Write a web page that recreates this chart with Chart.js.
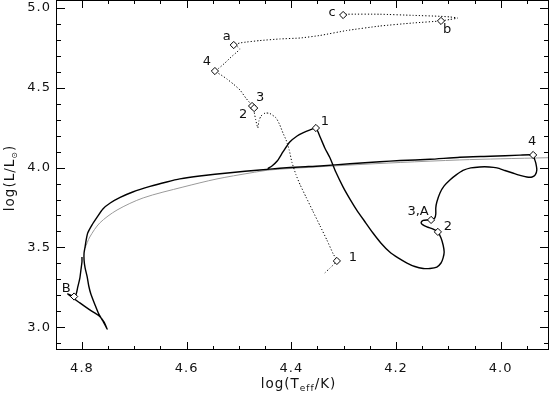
<!DOCTYPE html>
<html>
<head>
<meta charset="utf-8">
<script src="https://cdn.jsdelivr.net/npm/chart.js@4.4.1/dist/chart.umd.min.js"></script>
<style>
  html, body { margin: 0; padding: 0; background: #fff; }
  #wrap { width: 551px; height: 397px; }
</style>
</head>
<body>
<div id="wrap"><canvas id="hrd"></canvas></div>
<script>
// All values are [log Teff, log L/Lsun].

// primary (solid): ZAMS -> 1 -> 2 -> 3,A -> 4 -> blueward to B
const primaryTrack = [
  [4.445, 3.994], [4.437, 4.010], [4.427, 4.041], [4.416, 4.098], [4.403, 4.160],
  [4.389, 4.198], [4.378, 4.217], [4.364, 4.236], [4.353, 4.248],
  [4.345, 4.192], [4.336, 4.123], [4.326, 4.060], [4.315, 3.972], [4.301, 3.878],
  [4.288, 3.803], [4.275, 3.734], [4.259, 3.659], [4.244, 3.590], [4.229, 3.528],
  [4.212, 3.471], [4.196, 3.434], [4.179, 3.402], [4.164, 3.380], [4.148, 3.368],
  [4.135, 3.368], [4.122, 3.377], [4.114, 3.402], [4.110, 3.434], [4.108, 3.471],
  [4.110, 3.515], [4.114, 3.559], [4.120, 3.597],
  [4.129, 3.615], [4.141, 3.628], [4.150, 3.644], [4.152, 3.656], [4.148, 3.669],
  [4.141, 3.672], [4.133, 3.672],
  [4.126, 3.684], [4.124, 3.709], [4.124, 3.747], [4.122, 3.784], [4.116, 3.841],
  [4.108, 3.885], [4.097, 3.922], [4.085, 3.954], [4.072, 3.982], [4.057, 3.998],
  [4.040, 4.004], [4.022, 4.004], [4.007, 3.998], [3.992, 3.982], [3.977, 3.966],
  [3.963, 3.951], [3.950, 3.941], [3.940, 3.941], [3.934, 3.954], [3.931, 3.985],
  [3.933, 4.029], [3.936, 4.060], [3.938, 4.079],
  [3.963, 4.078], [4.020, 4.071], [4.078, 4.065], [4.135, 4.052], [4.192, 4.044],
  [4.231, 4.037], [4.288, 4.024], [4.345, 4.010], [4.383, 4.004], [4.422, 3.996],
  [4.460, 3.985], [4.517, 3.968], [4.575, 3.947], [4.613, 3.929], [4.638, 3.910],
  [4.670, 3.882], [4.703, 3.847], [4.727, 3.813], [4.746, 3.778], [4.760, 3.741],
  [4.771, 3.690], [4.781, 3.640], [4.789, 3.590], [4.792, 3.546], [4.794, 3.503],
  [4.796, 3.465], [4.796, 3.421], [4.794, 3.371], [4.790, 3.315], [4.787, 3.258],
  [4.783, 3.208], [4.775, 3.139], [4.768, 3.083], [4.760, 3.039], [4.754, 3.001],
  [4.752, 2.989], [4.758, 3.033], [4.766, 3.067], [4.785, 3.108], [4.804, 3.152],
  [4.827, 3.208], [4.815, 3.192],
  [4.811, 3.208], [4.808, 3.252], [4.804, 3.308], [4.802, 3.358], [4.800, 3.408],
  [4.800, 3.440]
];

// thin grey comparison track
const singleTrack = [
  [3.908, 4.062], [4.001, 4.055], [4.078, 4.048], [4.192, 4.032], [4.288, 4.016],
  [4.383, 3.998], [4.441, 3.985], [4.479, 3.966], [4.542, 3.929], [4.607, 3.878],
  [4.683, 3.810], [4.733, 3.734], [4.766, 3.653], [4.785, 3.565], [4.794, 3.496]
];

// secondary (dotted)
const secondaryTrack = [
  [4.336, 3.340], [4.326, 3.371], [4.313, 3.415],
  [4.320, 3.459], [4.332, 3.546], [4.345, 3.634], [4.359, 3.728], [4.372, 3.816],
  [4.383, 3.891], [4.391, 3.954], [4.399, 4.035], [4.404, 4.110], [4.410, 4.173],
  [4.416, 4.217], [4.422, 4.267], [4.429, 4.311], [4.441, 4.339], [4.450, 4.342],
  [4.458, 4.323], [4.462, 4.292], [4.464, 4.248], [4.468, 4.298], [4.471, 4.348],
  [4.473, 4.380],
  [4.487, 4.436], [4.498, 4.486], [4.511, 4.524], [4.523, 4.555], [4.534, 4.580],
  [4.546, 4.605],
  [4.538, 4.624], [4.527, 4.655], [4.515, 4.693], [4.504, 4.724], [4.498, 4.743],
  [4.502, 4.756], [4.510, 4.768],
  [4.498, 4.781], [4.485, 4.787], [4.460, 4.796], [4.422, 4.806], [4.383, 4.812],
  [4.345, 4.828], [4.294, 4.859], [4.231, 4.887], [4.168, 4.906], [4.114, 4.919],
  [4.097, 4.928], [4.082, 4.937], [4.097, 4.944], [4.116, 4.948], [4.168, 4.954],
  [4.231, 4.961], [4.294, 4.961], [4.301, 4.956]
];

const primaryMarks = [[4.353, 4.248], [4.120, 3.597], [4.133, 3.672], [3.938, 4.079], [4.815, 3.192]];
const primaryNames = ['1', '2', '3,A', '4', 'B'];
const secondaryMarks = [[4.313, 3.415], [4.475, 4.386], [4.471, 4.373], [4.546, 4.605],
                        [4.510, 4.768], [4.114, 4.919], [4.301, 4.956]];
const secondaryNames = ['1', '2', '3', '4', 'a', 'b', 'c'];

const xMajorTicks = [4.8, 4.6, 4.4, 4.2, 4.0];
const yMajorTicks = [3.0, 3.5, 4.0, 4.5, 5.0];

// label offsets in px from each marker (style only)
const primaryLabelOffset = [[9, -6], [10, -5], [-13, -8], [-1, -13], [-8, -8]];
const secondaryLabelOffset = [[16, -3], [-9, 9], [6, -10], [-8, -9], [-7, -8], [6, 9], [-11, -2]];

const FONT = 'DejaVu Sans';
const toXY = arr => arr.map(p => ({ x: p[0], y: p[1] }));

// the IDL-ish lettering is a little wider than DejaVu
const spacing = {
  id: 'spacing',
  beforeDraw(chart) { chart.ctx.letterSpacing = '1px'; }
};

const frameAndText = {
  id: 'frameAndText',
  afterDatasetsDraw(chart) {
    const { ctx, chartArea: a, scales: { x, y } } = chart;
    ctx.save();
    ctx.strokeStyle = '#000';
    ctx.lineWidth = 1;
    ctx.strokeRect(a.left + 0.5, a.top + 0.5, a.right - a.left - 1, a.bottom - a.top - 1);

    // inward ticks, IDL style, on all four sides
    ctx.beginPath();
    for (let i = 79; i <= 96; i++) {
      const v = i / 20;
      const px = Math.round(x.getPixelForValue(v)) + 0.5;
      const len = (i % 4 === 0) ? 8 : 4;
      ctx.moveTo(px, a.bottom); ctx.lineTo(px, a.bottom - len);
      ctx.moveTo(px, a.top); ctx.lineTo(px, a.top + len);
    }
    for (let i = 29; i <= 50; i++) {
      const v = i / 10;
      const py = Math.round(y.getPixelForValue(v)) + 0.5;
      const len = (i % 5 === 0) ? 9 : 5;
      ctx.moveTo(a.left, py); ctx.lineTo(a.left + len, py);
      ctx.moveTo(a.right, py); ctx.lineTo(a.right - len, py);
    }
    ctx.stroke();

    // marker labels
    ctx.letterSpacing = '0px';
    ctx.fillStyle = '#111';
    ctx.font = '13px ' + FONT;
    ctx.textAlign = 'center';
    ctx.textBaseline = 'middle';
    const put = (marks, names, offs) => marks.forEach((m, i) => {
      ctx.fillText(names[i], x.getPixelForValue(m[0]) + offs[i][0], y.getPixelForValue(m[1]) + offs[i][1]);
    });
    put(primaryMarks, primaryNames, primaryLabelOffset);
    put(secondaryMarks, secondaryNames, secondaryLabelOffset);

    // axis titles with subscripts
    ctx.letterSpacing = '1px';
    ctx.textAlign = 'left';
    ctx.textBaseline = 'alphabetic';
    const parts = (segs) => segs.reduce((w, s) => { ctx.font = s[1] + 'px ' + FONT; return w + ctx.measureText(s[0]).width; }, 0);
    const drawSegs = (segs, x0, y0) => {
      let cx = x0;
      segs.forEach(s => {
        ctx.font = s[1] + 'px ' + FONT;
        ctx.fillText(s[0], cx, y0 + s[2]);
        cx += ctx.measureText(s[0]).width;
      });
    };
    const xt = [['log(T', 13.5, 0], ['eff', 9, 3], ['/K)', 13.5, 0]];
    const cxm = (a.left + a.right) / 2 - 4;
    drawSegs(xt, cxm - parts(xt) / 2, 388);

    const yt = [['log(L/L', 13.5, 0], ['\u2299', 8, 3], [')', 13.5, 0]];
    ctx.save();
    ctx.translate(14, (a.top + a.bottom) / 2 + 3);
    ctx.rotate(-Math.PI / 2);
    drawSegs(yt, -parts(yt) / 2, 0);
    ctx.restore();
    ctx.restore();
  }
};

const diamond = {
  showLine: false,
  pointStyle: 'rectRot',
  pointRadius: 3.6,
  pointBorderWidth: 1,
  pointBackgroundColor: '#fff',
  pointBorderColor: '#000'
};

new Chart(document.getElementById('hrd'), {
  type: 'scatter',
  data: {
    datasets: [
      Object.assign({ data: toXY(primaryMarks) }, diamond),
      Object.assign({ data: toXY(secondaryMarks) }, diamond),
      { data: toXY(primaryTrack), showLine: true, pointRadius: 0, borderColor: '#000', borderWidth: 1.4, tension: 0.2 },
      { data: toXY(secondaryTrack), showLine: true, pointRadius: 0, borderColor: '#000', borderWidth: 1, borderDash: [1.2, 2], tension: 0.15 },
      { data: toXY(singleTrack), showLine: true, pointRadius: 0, borderColor: '#9a9a9a', borderWidth: 1, tension: 0.3 }
    ]
  },
  options: {
    responsive: true,
    maintainAspectRatio: false,
    animation: false,
    devicePixelRatio: 1,
    layout: { autoPadding: false, padding: { top: 0, right: 2, bottom: 0, left: 0 } },
    plugins: { legend: { display: false }, tooltip: { enabled: false } },
    scales: {
      x: {
        type: 'linear',
        reverse: true,
        min: 3.9077,
        max: 4.8496,
        grid: { display: false, drawTicks: false },
        border: { display: false },
        afterBuildTicks: s => { s.ticks = xMajorTicks.map(v => ({ value: v })); },
        afterFit: s => { s.height = 47; s.paddingLeft = 0; s.paddingRight = 0; },
        ticks: { padding: 11, color: '#111', font: { family: FONT, size: 13 }, callback: v => v.toFixed(1) }
      },
      y: {
        type: 'linear',
        min: 2.857,
        max: 5.0501,
        grid: { display: false, drawTicks: false },
        border: { display: false },
        afterBuildTicks: s => { s.ticks = yMajorTicks.map(v => ({ value: v })); },
        afterFit: s => { s.width = 56; s.paddingTop = 0; s.paddingBottom = 0; },
        ticks: { padding: 5, color: '#111', font: { family: FONT, size: 13 }, callback: v => v.toFixed(1) }
      }
    }
  },
  plugins: [spacing, frameAndText]
});
</script>
</body>
</html>
